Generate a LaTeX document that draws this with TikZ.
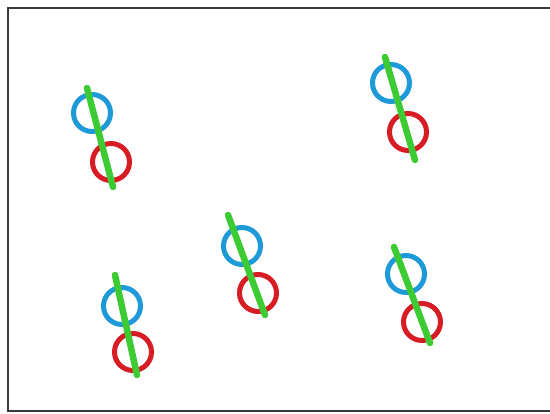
\documentclass[tikz,border=0pt]{standalone}
\usepackage{tikz}
\usepackage{xcolor}
\definecolor{RingBlue}{HTML}{1E9AD8}
\definecolor{RingRed}{HTML}{D81C24}
\definecolor{BarGreen}{HTML}{3CCB32}
\definecolor{FrameGray}{HTML}{3A3A3A}
\tikzset{
    % Upper ring of each pair
    bluering/.style={
        circle,
        draw=RingBlue,
        line width=5pt,
        minimum size=37pt,
        inner sep=0pt
    },
    % Lower ring of each pair
    redring/.style={
        bluering,
        draw=RingRed
    },
    % Bar through both rings
    greenbar/.style={
        draw=BarGreen,
        line width=6.5pt,
        line cap=round
    },
    % Frame
    framebox/.style={
        draw=FrameGray,
        line width=2.5pt
    }
}

\begin{document}
\begin{tikzpicture}[x=1pt, y=-1pt]
        \useasboundingbox (0,0) rectangle (550,414);
        % Frame (right side is outside the picture)
        \draw[framebox] (560,8) -- (8,8) -- (8,411) -- (560,411);

        % Pairs: index / blue centre / red centre / bar ends
        \foreach \i/\bx/\by/\rx/\ry/\sx/\sy/\ex/\ey in {
            1/92/113/111/162/87/88/113/187,
            2/391/83/408/132/385/57/415/160,
            3/122/306/133/352/115/275/137/375,
            4/242/246/258/293/228/215/265/315,
            5/406/274/422/322/394/247/430/343}
        {
            \node[bluering] (b\i) at (\bx,\by) {};
            \node[redring] (r\i) at (\rx,\ry) {};
            \coordinate (s\i) at (\sx,\sy);
            \coordinate (e\i) at (\ex,\ey);
            \draw[greenbar] (s\i) -- (e\i);
        }
    \end{tikzpicture}
\end{document}
